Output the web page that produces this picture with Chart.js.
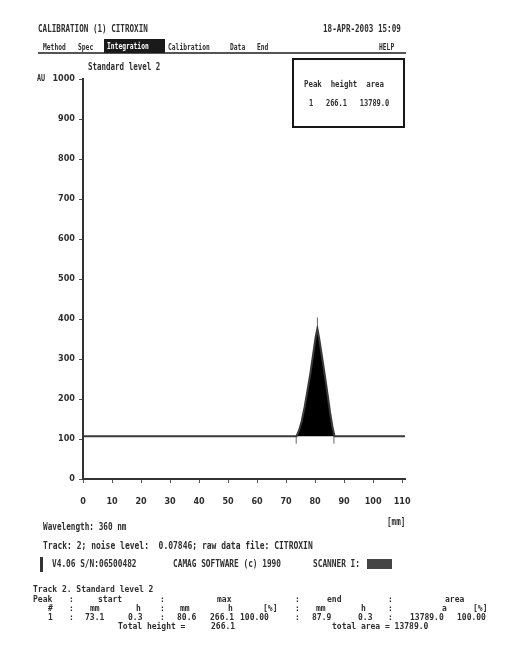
<!DOCTYPE html>
<html>
<head>
<meta charset="utf-8">
<title>Calibration - Standard level 2</title>
<script src="https://cdn.jsdelivr.net/npm/chart.js@4.4.1/dist/chart.umd.min.js"></script>
<style>
    html, body { margin: 0; padding: 0; background: #fff; }
    #page { position: relative; width: 508px; height: 656px; overflow: hidden; background: #fff; }
    #scan { position: absolute; left: 0; top: 0; }
    .t {
        position: absolute;
        white-space: pre;
        color: #2e2e2e;
        font-family: "DejaVu Sans Mono", "Liberation Mono", monospace;
        font-weight: bold;
        line-height: 12px;
        height: 12px;
        transform-origin: 0 50%;
    }
    .inv { color: #fff; }
    .bar { position: absolute; background: #333; }
    #peakBox {
        position: absolute; left: 292px; top: 58px; width: 113px; height: 70px;
        box-sizing: border-box; border: 2px solid #161616; background: #fff;
    }
</style>
</head>
<body>
<div id="page">
    <canvas id="scan" width="508" height="656"></canvas>
    <div id="peakBox"></div>
    <!-- menu underline, inverted menu item, blacked out fields -->
    <div class="bar" style="left:38px;top:52px;width:368px;height:1.5px;background:#555"></div>
    <div class="bar" style="left:104px;top:39px;width:61px;height:14px;background:#1a1a1a"></div>
    <div class="bar" style="left:40px;top:557px;width:3px;height:15px"></div>
    <div class="bar" style="left:367px;top:559px;width:25px;height:10px;background:#444"></div>
</div>

<script>
// -----------------------------------------------
// Chromatogram data (track position in mm, signal in AU)
// -----------------------------------------------
const positions = [0, 73.6, 74.5, 75.4, 76.4, 77.4, 78.4, 79.4, 80.2, 80.8, 81.4, 82.3, 83.3, 84.3, 85.2, 86.0, 86.7, 111];
const response  = [107, 107, 122, 145, 180, 222, 265, 315, 355, 376, 352, 310, 262, 212, 165, 130, 107, 107];
const baselineLevel = 107;

// integration marks: peak start, peak max, peak end
const markPositions = [73.5, 80.8, 86.5];
const markLevels    = [97, 395, 97];

// axis tick labels
const xTicks = [0, 10, 20, 30, 40, 50, 60, 70, 80, 90, 100, 110];
const yTicks = [0, 100, 200, 300, 400, 500, 600, 700, 800, 900, 1000];

// -----------------------------------------------
// Printed text around the plot: [text, left, centre y, size, scaleX, extra class]
// -----------------------------------------------
const printedText = [
    ['CALIBRATION (1) CITROXIN', 38, 29, 10, 0.76],
    ['18-APR-2003 15:09', 323, 29, 10, 0.76],
    ['Method', 43, 47, 9, 0.7],
    ['Spec', 78, 47, 9, 0.7],
    ['Integration', 107, 46, 9, 0.7, 'inv'],
    ['Calibration', 168, 47, 9, 0.7],
    ['Data', 230, 47, 9, 0.7],
    ['End', 257, 47, 9, 0.7],
    ['HELP', 379, 47, 9, 0.7],
    ['Standard level 2', 88, 67, 10, 0.75],
    ['AU', 37, 78, 9, 0.75],
    ['Peak  height  area', 304, 84, 9, 0.82],
    ['1   266.1   13789.0', 309, 103, 9, 0.78],
    ['[mm]', 387, 522, 10, 0.76],
    ['Wavelength: 360 nm', 43, 527, 10, 0.77],
    ['Track: 2; noise level:  0.07846; raw data file: CITROXIN', 43, 546, 10, 0.8],
    ['V4.06 S/N:06500482', 52, 564, 10, 0.78],
    ['CAMAG SOFTWARE (c) 1990', 173, 564, 10, 0.78],
    ['SCANNER I:', 313, 564, 10, 0.78],
    // result table
    ['Track 2. Standard level 2', 33, 590, 8, 1],
    ['Peak', 33, 600, 8, 1], [':', 69, 600, 8, 1], ['start', 98, 600, 8, 1], [':', 160, 600, 8, 1],
    ['max', 217, 600, 8, 1], [':', 295, 600, 8, 1], ['end', 327, 600, 8, 1], [':', 388, 600, 8, 1], ['area', 445, 600, 8, 1],
    ['#', 48, 609, 8, 1], [':', 69, 609, 8, 1], ['mm', 90, 609, 8, 1], ['h', 136, 609, 8, 1], [':', 160, 609, 8, 1],
    ['mm', 180, 609, 8, 1], ['h', 228, 609, 8, 1], ['[%]', 263, 609, 8, 1], [':', 295, 609, 8, 1],
    ['mm', 316, 609, 8, 1], ['h', 361, 609, 8, 1], [':', 388, 609, 8, 1], ['a', 442, 609, 8, 1], ['[%]', 473, 609, 8, 1],
    ['1', 48, 618, 8, 1], [':', 69, 618, 8, 1], ['73.1', 85, 618, 8, 1], ['0.3', 128, 618, 8, 1], [':', 160, 618, 8, 1],
    ['80.6', 177, 618, 8, 1], ['266.1', 210, 618, 8, 1], ['100.00', 240, 618, 8, 1], [':', 295, 618, 8, 1],
    ['87.9', 312, 618, 8, 1], ['0.3', 358, 618, 8, 1], [':', 388, 618, 8, 1], ['13789.0', 410, 618, 8, 1], ['100.00', 457, 618, 8, 1],
    ['Total height =', 118, 627, 8, 1], ['266.1', 211, 627, 8, 1], ['total area = 13789.0', 332, 627, 8, 1]
];

const page = document.getElementById('page');
printedText.forEach(function(item) {
    const div = document.createElement('div');
    div.className = 't' + (item[5] ? ' ' + item[5] : '');
    div.textContent = item[0];
    div.style.left = item[1] + 'px';
    div.style.top = (item[2] - 6) + 'px';
    div.style.fontSize = item[3] + 'px';
    div.style.transform = 'scaleX(' + item[4] + ')';
    page.appendChild(div);
});

// -----------------------------------------------
// The plot itself
// -----------------------------------------------
const tickFont = { family: '"DejaVu Sans Condensed", "DejaVu Sans", sans-serif', size: 9, weight: 'bold' };
const inkColor = '#2e2e2e';

new Chart(document.getElementById('scan'), {
    type: 'line',
    data: {
        datasets: [
            {
                // trace, filled black between the signal and the baseline
                data: positions.map((p, i) => ({ x: p, y: response[i] })),
                borderColor: '#3a3a3a',
                borderWidth: 2,
                backgroundColor: '#000',
                fill: { value: baselineLevel },
                pointRadius: 0,
                tension: 0
            },
            {
                type: 'scatter',
                data: markPositions.map((p, i) => ({ x: p, y: markLevels[i] })),
                pointStyle: 'line',
                rotation: 90,
                radius: 3.5,
                borderColor: '#666',
                borderWidth: 1
            }
        ]
    },
    options: {
        responsive: false,
        animation: false,
        layout: { padding: { left: 0, top: 79, right: 103, bottom: 147 } },
        plugins: {
            legend: { display: false },
            tooltip: { enabled: false }
        },
        scales: {
            x: {
                type: 'linear',
                min: 0,
                max: 111,
                afterBuildTicks: s => { s.ticks = xTicks.map(v => ({ value: v })); },
                afterFit: s => { s.height = 30; },
                ticks: { font: tickFont, color: inkColor, padding: 13, maxRotation: 0, callback: v => String(v) },
                grid: { drawOnChartArea: false, drawTicks: true, tickLength: 4, color: '#555' },
                border: { color: '#333', width: 2 }
            },
            y: {
                min: 0,
                max: 1000,
                afterBuildTicks: s => { s.ticks = yTicks.map(v => ({ value: v })); },
                afterFit: s => { s.width = 83; },
                ticks: { font: tickFont, color: inkColor, padding: 4, callback: v => String(v) },
                grid: { drawOnChartArea: false, drawTicks: true, tickLength: 4, color: '#555' },
                border: { color: '#333', width: 2 }
            }
        }
    }
});
</script>
</body>
</html>
